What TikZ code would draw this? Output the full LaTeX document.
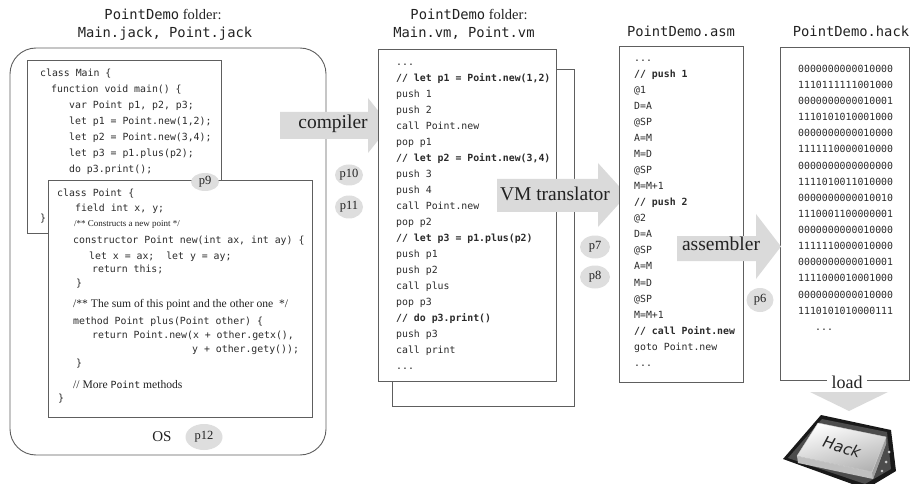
\documentclass[tikz,border=0pt]{standalone}
\usepackage{fontspec}
\setmainfont{Liberation Serif}
\setmonofont{DejaVu Sans Mono}
\newfontfamily\chipfont{DejaVu Sans}
\usetikzlibrary{shapes.geometric}

\definecolor{linecol}{HTML}{5E5E5E}
\definecolor{arrowfill}{HTML}{DADADA}
\definecolor{ellfill}{HTML}{DEDEDE}
\definecolor{textcol}{HTML}{222222}
\definecolor{codecol}{HTML}{2B2B2B}

\newcommand\codefont{\ttfamily\fontsize{9.85}{12}\selectfont}
\newcommand\titlemono{\ttfamily\fontsize{13.8}{16}\selectfont}

\begin{document}
\begin{tikzpicture}[x=1pt,y=-1pt,
  frame/.style={draw=linecol, line width=0.9pt},
  code/.style={anchor=base west, inner sep=0pt, text=codecol, font=\codefont},
  note/.style={anchor=base west, inner sep=0pt, text=textcol, font=\fontsize{#1}{12}\selectfont},
  title/.style={anchor=base, inner sep=0pt, text=textcol, font=\fontsize{14.5}{16}\selectfont},
  tag/.style={ellipse, fill=ellfill, inner sep=0pt, text=textcol, font=\fontsize{12.5}{14}\selectfont},
  arrowlabel/.style={inner sep=0pt, text=textcol, font=\fontsize{19.5}{22}\selectfont},
  bigarrow/.style={fill=arrowfill}
]
\useasboundingbox (0,0) rectangle (911,484);

% ---------- Jack source files ----------
\node[title] (jt1) at (163,19.5) {{\titlemono PointDemo} folder:};
\node[title] (jt2) at (165,38) {\titlemono Main.jack, Point.jack};

\draw[frame, rounded corners=26pt] (10,48) rectangle (326,455);
\node[text=textcol, font=\fontsize{15}{16}\selectfont, inner sep=0pt] (os) at (162,437) {OS};
\node[tag, minimum width=37pt, minimum height=26pt] (p12) at (204,437) {p12};

% class Main
\draw[frame, fill=white] (27,60) rectangle (221,233);
\node[code] (m1) at (40,76.3) {class Main \{};
\node[code] (m2) at (51,92.3) {function void main() \{};
\node[code] (m3) at (69,108.3) {var Point p1, p2, p3;};
\node[code] (m4) at (69,124.3) {let p1 = Point.new(1,2);};
\node[code] (m5) at (69,140.3) {let p2 = Point.new(3,4);};
\node[code] (m6) at (69,156.3) {let p3 = p1.plus(p2);};
\node[code] (m7) at (69,172.3) {do p3.print();};
\node[code] (m8) at (40,221.3) {\}};

% class Point
\draw[frame, fill=white] (48,180) rectangle (312,417);
\node[tag, minimum width=28pt, minimum height=18pt] (p9) at (205,182) {p9};
\node[code] (q1) at (57,196.3) {class Point \{};
\node[code] (q2) at (75,211.3) {field int x, y;};
\node[note=9] (q3) at (74,226) {/** Constructs a new point */};
\node[code] (q4) at (73,243.3) {constructor Point new(int ax, int ay) \{};
\node[code] (q5) at (89,259.3) {let x = ax;~ let y = ay;};
\node[code] (q6) at (92,272.3) {return this;};
\node[code] (q7) at (76,286.3) {\}};
\node[note=11.6] (q8) at (73,307.5) {/** The sum of this point and the other one~ */};
\node[code] (q9) at (73,324.3) {method Point plus(Point other) \{};
\node[code] (q10) at (92,338.3) {return Point.new(x + other.getx(),};
\node[code] (q11) at (192,352.3) {y + other.gety());};
\node[code] (q12) at (76,366.3) {\}};
\node[note=11.6] (q13) at (73,388) {// More {\codefont Point} methods};
\node[code] (q14) at (58,401.3) {\}};

% compiler
\fill[bigarrow] (280,112) -- (368,112) -- (368,98) -- (390,125.5) -- (368,153) -- (368,139) -- (280,139) -- cycle;
\node[arrowlabel] (compiler) at (333,124) {compiler};
\node[tag, minimum width=28pt, minimum height=21pt] (p10) at (349,175) {p10};
\node[tag, minimum width=28pt, minimum height=23pt] (p11) at (349,207) {p11};

% ---------- VM files ----------
\node[title] (vt1) at (469,19.5) {{\titlemono PointDemo} folder:};
\node[title] (vt2) at (464,38) {\titlemono Main.vm, Point.vm};

\draw[frame, fill=white] (392,69) rectangle (574,406);
\draw[frame, fill=white] (378,49) rectangle (556,381);
\node[code] (vm0) at (396,65.3) {...};
\foreach \t [count=\i] in {
  {\bfseries // let p1 = Point.new(1,2)}, {push 1}, {push 2}, {call Point.new}, {pop p1},
  {\bfseries // let p2 = Point.new(3,4)}, {push 3}, {push 4}, {call Point.new}, {pop p2},
  {\bfseries // let p3 = p1.plus(p2)}, {push p1}, {push p2}, {call plus}, {pop p3},
  {\bfseries // do p3.print()}, {push p3}, {call print}}
  \node[code] (vm\i) at (396,{65.3+\i*16}) {\t};
\node[code] (vmend) at (396,369.3) {...};

% VM translator
\fill[bigarrow] (497,179) -- (598,179) -- (598,163) -- (627,195) -- (598,227) -- (598,212) -- (497,212) -- cycle;
\node[arrowlabel] (vmtrans) at (555,194) {VM translator};
\node[tag, minimum width=30pt, minimum height=23pt] (p7) at (595,247) {p7};
\node[tag, minimum width=30pt, minimum height=23pt] (p8) at (595,277) {p8};

% ---------- assembly ----------
\node[title] (at1) at (681,36.5) {\titlemono PointDemo.asm};
\draw[frame, fill=white] (619,46) rectangle (743,382);
\node[code] (asm0) at (634,61.3) {...};
\foreach \t [count=\i] in {
  {\bfseries // push 1}, {@1}, {D=A}, {@SP}, {A=M}, {M=D}, {@SP}, {M=M+1},
  {\bfseries // push 2}, {@2}, {D=A}, {@SP}, {A=M}, {M=D}, {@SP}, {M=M+1},
  {\bfseries // call Point.new}, {goto Point.new}}
  \node[code] (asm\i) at (634,{61.3+\i*16.05}) {\t};
\node[code] (asmend) at (634,366.3) {...};

% ---------- binary ----------
\node[title] (ht1) at (851,36.5) {\titlemono PointDemo.hack};
\draw[frame, fill=white] (780,47) rectangle (909,380);
\foreach \t [count=\i] in {
  0000000000010000, 1110111111001000, 0000000000010001, 1110101010001000,
  0000000000010000, 1111110000010000, 0000000000000000, 1111010011010000,
  0000000000010010, 1110001100000001, 0000000000010000, 1111110000010000,
  0000000000010001, 1111000010001000, 0000000000010000, 1110101010000111}
  \node[code] (bin\i) at (798,{72.3+(\i-1)*16.13}) {\t};
\node[code] (binend) at (815,330.3) {...};

% assembler
\fill[bigarrow] (677,236) -- (756,236) -- (756,214) -- (781,246.5) -- (756,279) -- (756,261) -- (677,261) -- cycle;
\node[arrowlabel] (assembler) at (721,244) {assembler};
\node[tag, minimum width=27pt, minimum height=24pt] (p6) at (760,300) {p6};

% load
\node[fill=white, inner xsep=4.5pt, inner ysep=3pt, text=textcol, font=\fontsize{18}{20}\selectfont] (load) at (847,382) {load};
\fill[bigarrow] (810,392) -- (888,392) -- (849,411) -- cycle;

% ---------- Hack chip ----------
% dark carrier board
\fill[black!90] (783,459) -- (821,415) -- (891,430) -- (896,471) -- (866,489) -- cycle;
\fill[black!70] (788,458) -- (822,419) -- (887,432) -- (891,469) -- (865,484) -- cycle;
% silver heat spreader: side faces, then top face
\fill[gray!50] (797,456) -- (872,472) -- (886,437) -- (886,444) -- (873,479) -- (798,463) -- cycle;
\fill[gray!75] (872,472) -- (886,437) -- (886,444) -- (873,479) -- cycle;
\shade[top color=white, bottom color=gray!60, shading angle=15]
  (818,423) -- (886,437) -- (872,472) -- (797,456) -- cycle;
\draw[gray!35, line width=0.4pt] (818,423) -- (886,437) -- (872,472) -- (797,456) -- cycle;
\fill[gray!40] (889,452) circle (1.5);
\fill[gray!40] (886,462) circle (1.5);
\fill[gray!40] (882,471) circle (1.4);
\node[rotate=-17, text=black!85, font=\chipfont\itshape\fontsize{15.5}{16}\selectfont, inner sep=0pt] (hacklabel) at (842,447) {Hack};

\end{tikzpicture}
\end{document}
